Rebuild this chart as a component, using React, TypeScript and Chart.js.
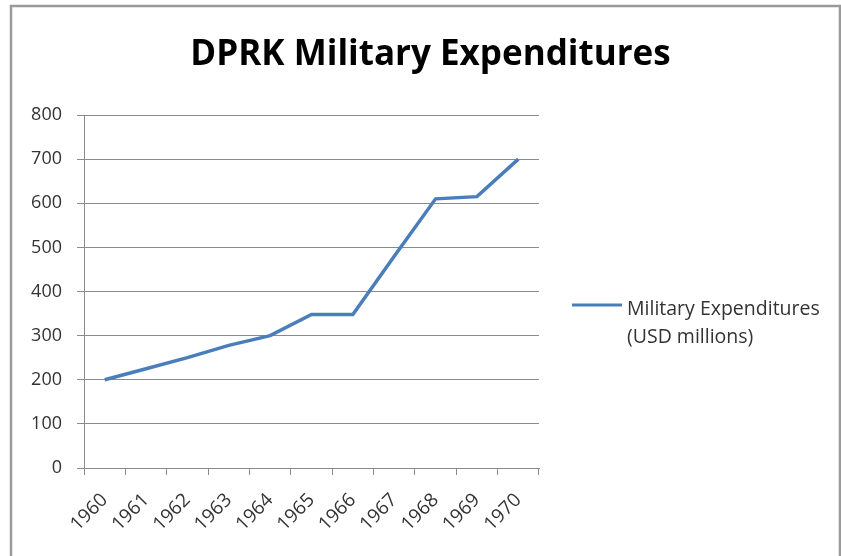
import React, { useEffect, useRef } from "react";
import { Chart, registerables } from "chart.js";

Chart.register(...registerables);

const titleText = "DPRK Military Expenditures";
const years = ["1960", "1961", "1962", "1963", "1964", "1965", "1966", "1967", "1968", "1969", "1970"];
const expenditures = [200, 225, 250, 278, 300, 348, 348, 480, 610, 615, 700];
const seriesLabel = ["Military Expenditures", "(USD millions)"];
const yMin = 0;
const yMax = 800;
const yStep = 100;

const FONT = "'Open Sans', 'Noto Sans', sans-serif";
const LINE_COLOR = "#4a7ebb";
const GRID_COLOR = "#8a8a8a";

const borderPlugin = {
  id: "frameBorder",
  beforeDraw(chart: any) {
    const ctx = chart.ctx;
    ctx.save();
    ctx.fillStyle = "#ffffff";
    ctx.fillRect(0, 0, chart.width, chart.height);
    ctx.strokeStyle = "#9a9a9a";
    ctx.lineWidth = 2.5;
    ctx.beginPath();
    ctx.moveTo(11, chart.height + 5);
    ctx.lineTo(11, 6);
    ctx.lineTo(chart.width - 1, 6);
    ctx.lineTo(chart.width - 1, chart.height + 5);
    ctx.stroke();
    ctx.restore();
  },
};

const legendPlugin = {
  id: "sideLegend",
  afterDraw(chart: any) {
    const ctx = chart.ctx;
    const ds = chart.data.datasets[0];
    const lines: string[] = ds.legendLines;
    const x0 = chart.chartArea.right + 33;
    const cy = 305;
    ctx.save();
    ctx.strokeStyle = ds.borderColor;
    ctx.lineWidth = 3;
    ctx.beginPath();
    ctx.moveTo(x0, cy);
    ctx.lineTo(x0 + 50, cy);
    ctx.stroke();
    ctx.fillStyle = "#333333";
    ctx.font = `19.5px ${FONT}`;
    ctx.textBaseline = "middle";
    ctx.textAlign = "left";
    lines.forEach((t, i) => ctx.fillText(t, x0 + 55, cy + 4 + i * 28));
    ctx.restore();
  },
};

export default function App() {
  const ref = useRef<HTMLCanvasElement>(null);
  useEffect(() => {
    if (!ref.current) return;
    const chart = new Chart(ref.current, {
      type: "line",
      data: {
        labels: years,
        datasets: [
          {
            label: seriesLabel.join(" "),
            legendLines: seriesLabel,
            data: expenditures,
            borderColor: LINE_COLOR,
            backgroundColor: LINE_COLOR,
            borderWidth: 3.5,
            pointRadius: 0,
            tension: 0,
          } as any,
        ],
      },
      options: {
        animation: false,
        responsive: false,
        layout: { padding: { left: 20, right: 0, top: 0, bottom: 0 } },
        plugins: {
          legend: { display: false },
          tooltip: { enabled: false },
          title: {
            display: true,
            text: titleText,
            color: "#000000",
            font: { family: FONT, size: 35, weight: "bold", lineHeight: 1.2 },
            padding: { top: 34, bottom: 39 },
          },
        },
        scales: {
          x: {
            type: "category",
            offset: true,
            grid: {
              display: true,
              drawOnChartArea: false,
              drawTicks: true,
              tickLength: 7,
              offset: true,
              color: GRID_COLOR,
            },
            border: { display: true, color: GRID_COLOR, width: 1 },
            ticks: {
              color: "#333333",
              font: { family: FONT, size: 19 },
              minRotation: 45,
              maxRotation: 45,
              autoSkip: false,
              padding: 14,
            },
            afterFit(scale: any) {
              scale.height = 88;
            },
          },
          y: {
            min: yMin,
            max: yMax,
            grid: {
              color: GRID_COLOR,
              drawTicks: true,
              tickLength: 7,
            },
            border: { display: true, color: GRID_COLOR, width: 1 },
            ticks: {
              stepSize: yStep,
              color: "#333333",
              font: { family: FONT, size: 18 },
              padding: 15,
            },
            afterFit(scale: any) {
              scale.width = 64;
            },
          },
          spacer: {
            type: "linear",
            position: "right",
            display: true,
            grid: { display: false, drawTicks: false },
            border: { display: false },
            ticks: { display: false },
            afterFit(scale: any) {
              scale.width = 302;
            },
          },
        },
      },
      plugins: [borderPlugin, legendPlugin],
    });
    return () => chart.destroy();
  }, []);
  return (
    <canvas
      ref={ref}
      width={841}
      height={556}
      style={{ position: "absolute", left: 0, top: 0, width: 841, height: 556 }}
    />
  );
}
